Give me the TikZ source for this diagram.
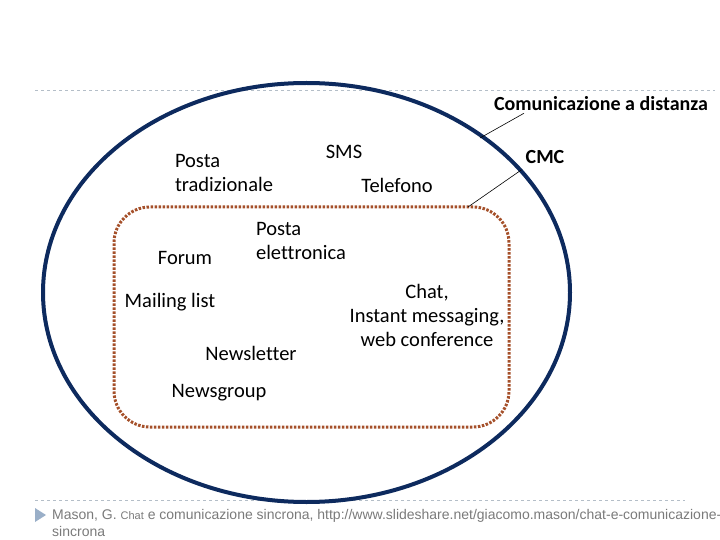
\documentclass[tikz,border=0pt]{standalone}
\usepackage{fontspec}
\setmainfont{Carlito}[Ligatures=CommonOff]
\newfontfamily\notefont{Liberation Sans}
\usetikzlibrary{shapes,positioning,calc}
\definecolor{EllNavy}{HTML}{0D2A5E}
\definecolor{CmcBrown}{HTML}{A5502A}
\definecolor{RuleGray}{HTML}{B4BEC8}
\definecolor{NoteGray}{HTML}{7A7A7A}
\definecolor{TriBlue}{HTML}{9AAFC8}

\begin{document}
\begin{tikzpicture}[
    x=1pt, y=-1pt,
    font=\fontsize{20.5}{24}\selectfont,
    item/.style={inner sep=0pt, align=center},
    itemleft/.style={inner sep=0pt, align=left},
    tag/.style={inner sep=0pt, font=\fontsize{20}{22}\selectfont\bfseries},
    leader/.style={line width=0.6pt, color=black},
    rule/.style={dashed, line width=0.8pt, color=RuleGray}
]
  \useasboundingbox (0,0) rectangle (720,540);

  % -------------------------------------------------------------
  % RIGHE DELLA SLIDE
  % -------------------------------------------------------------
  \draw[rule] (35,90) -- (715,90);
  \draw[rule] (35,500) -- (685,500);

  % -------------------------------------------------------------
  % INSIEMI: COMUNICAZIONE A DISTANZA E CMC
  % -------------------------------------------------------------
  \node[draw=EllNavy, line width=4pt, ellipse, minimum width=527pt, minimum height=419pt, inner sep=0pt] (e_dist) at (306.5,292.5) {};
  \node[draw=CmcBrown, line width=3pt, dash pattern=on 2.5pt off 1.5pt, rounded corners=36pt, minimum width=395pt, minimum height=220pt, inner sep=0pt] (r_cmc) at (311.5,317) {};

  % Etichette con linee di richiamo
  \node[tag] (lbl_dist) at (601,104) {Comunicazione a distanza};
  \node[tag] (lbl_cmc) at (545,157) {CMC};
  \coordinate (dist_end) at (480,138);
  \coordinate (cmc_end) at (468,207);
  \draw[leader] ($(lbl_dist.south west)+(30,2)$) -- (dist_end);
  \draw[leader] ($(lbl_cmc.south west)+(-4,6)$) -- (cmc_end);

  % -------------------------------------------------------------
  % STRUMENTI
  % -------------------------------------------------------------
  \node[item] (sms) at (344,152) {SMS};
  \node[itemleft] (posta_trad) at (224,173) {Posta\\tradizionale};
  \node[item] (telefono) at (397,185) {Telefono};
  \node[itemleft] (posta_el) at (301,241) {Posta\\elettronica};
  \node[item] (forum) at (185,258) {Forum};
  \node[item] (mailing) at (170,302) {Mailing list};
  \node[item] (chat) at (427,315) {Chat,\\Instant messaging,\\web conference};
  \node[item] (newsletter) at (251,353) {Newsletter};
  \node[item] (newsgroup) at (219,393) {Newsgroup};

  % -------------------------------------------------------------
  % FONTE
  % -------------------------------------------------------------
  \fill[TriBlue] (35,508) -- (46,515) -- (35,522) -- cycle;
  \node[inner sep=0pt, anchor=north west, align=left, text=NoteGray, font=\notefont\fontsize{14}{17}\selectfont] (fonte) at (52,509)
    {Mason, G. {\fontsize{11}{12}\selectfont Chat} e comunicazione sincrona, http://www.slideshare.net/giacomo.mason/chat-e-comunicazione-\\sincrona};

\end{tikzpicture}
\end{document}
